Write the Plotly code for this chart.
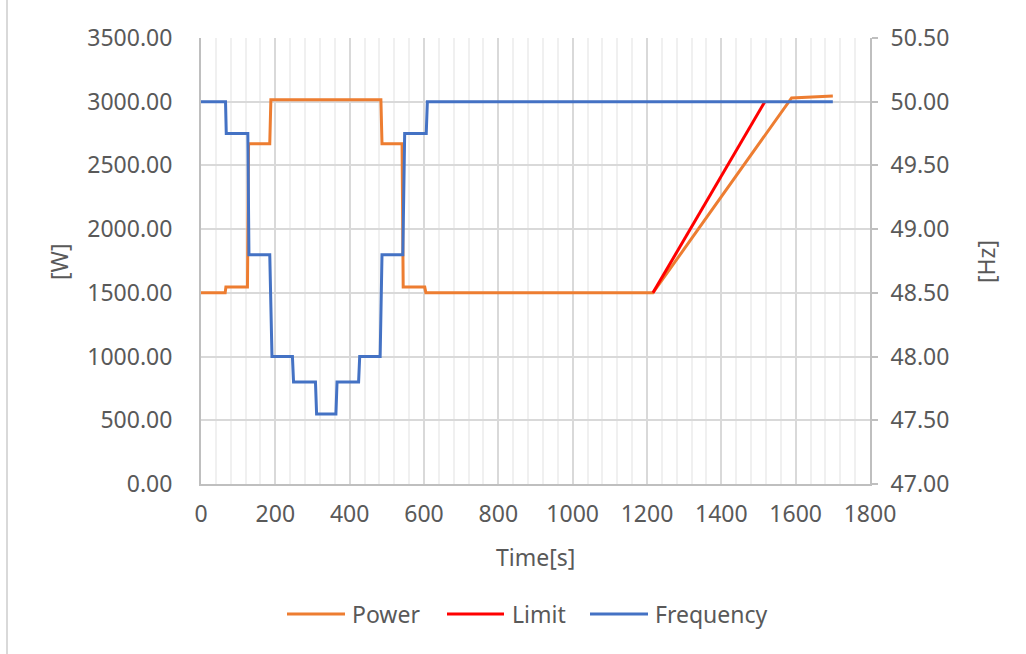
import plotly.graph_objects as go

# Measured active power [W] over time [s]
power_t = [0, 65, 67, 125, 128, 185, 188, 484, 487, 541, 544, 602, 605, 1216, 1589, 1700]
power_w = [1500, 1500, 1545, 1545, 2670, 2670, 3015, 3015, 2670, 2670, 1545, 1545, 1500, 1500, 3030, 3045]

# Power limit ramp [W]
limit_t = [1216, 1517]
limit_w = [1500, 3000]

# Grid frequency [Hz]
freq_t = [0, 66, 68, 126, 129, 185, 191, 246, 249, 308, 311, 363, 366, 424, 427, 482, 487, 543, 548, 606, 609, 1700]
freq_hz = [50.0, 50.0, 49.75, 49.75, 48.8, 48.8, 48.0, 48.0, 47.8, 47.8, 47.55, 47.55,
           47.8, 47.8, 48.0, 48.0, 48.8, 48.8, 49.75, 49.75, 50.0, 50.0]

series_names = ["Power", "Limit", "Frequency"]
colors = ["#ED7D31", "#FF0000", "#4472C4"]

FONT = "Noto Sans"
TXT = "#595959"
FS = 23

fig = go.Figure()
fig.add_trace(go.Scatter(x=power_t, y=power_w, mode="lines", name=series_names[0],
                         line=dict(color=colors[0], width=3), yaxis="y"))
fig.add_trace(go.Scatter(x=limit_t, y=limit_w, mode="lines", name=series_names[1],
                         line=dict(color=colors[1], width=3), yaxis="y"))
fig.add_trace(go.Scatter(x=freq_t, y=freq_hz, mode="lines", name=series_names[2],
                         line=dict(color=colors[2], width=3), yaxis="y2"))

fig.update_layout(
    width=1026, height=654,
    margin=dict(l=201, r=156, t=38, b=170, pad=0),
    paper_bgcolor="white", plot_bgcolor="white",
    font=dict(family=FONT, size=FS, color=TXT),
    showlegend=False,
    xaxis=dict(
        range=[0, 1800], dtick=200, tick0=0,
        showgrid=True, gridcolor="#d9d9d9", gridwidth=2,
        minor=dict(dtick=40, showgrid=True, gridcolor="#f0f0f0", gridwidth=2),
        showline=True, linecolor="#bfbfbf", linewidth=2,
        ticks="", zeroline=False, ticklabelstandoff=8,
        tickfont=dict(size=FS, color=TXT),
    ),
    yaxis=dict(
        range=[0, 3500], dtick=500, tick0=0, tickformat=".2f",
        showgrid=True, gridcolor="#d9d9d9", gridwidth=2,
        showline=True, linecolor="#bfbfbf", linewidth=2,
        ticks="", zeroline=False, ticklabelstandoff=22,
        tickfont=dict(size=FS, color=TXT),
    ),
    yaxis2=dict(
        range=[47, 50.5], dtick=0.5, tick0=47, tickformat=".2f",
        overlaying="y", side="right",
        showgrid=False, zeroline=False,
        showline=True, linecolor="#bfbfbf", linewidth=2,
        ticks="outside", ticklen=6, tickcolor="#bfbfbf", tickwidth=2,
        ticklabelstandoff=8,
        tickfont=dict(size=FS, color=TXT),
    ),
)

W, H = 669.0, 446.0
def px(x):
    return (x - 201) / W
def py(y):
    return (484 - y) / H

annotations = [
    dict(text="Time[s]", x=px(535), y=py(557), xref="paper", yref="paper",
         showarrow=False, font=dict(size=FS, color=TXT), xanchor="center", yanchor="middle"),
    dict(text="[W]", x=px(59), y=py(262), xref="paper", yref="paper", textangle=-90,
         showarrow=False, font=dict(size=FS, color=TXT), xanchor="center", yanchor="middle"),
    dict(text="[Hz]", x=px(986), y=py(262), xref="paper", yref="paper", textangle=-90,
         showarrow=False, font=dict(size=FS, color=TXT), xanchor="center", yanchor="middle"),
]

shapes = [
    # chart frame edge on the left
    dict(type="line", xref="paper", yref="paper", x0=px(7), x1=px(7), y0=py(0), y1=py(654),
         line=dict(color="#d9d9d9", width=2)),
]

# legend entries: line sample + label
legend_pos = [(287, 345, 350), (447, 504, 510), (590, 648, 653)]
for name, col, (x0, x1, xt) in zip(series_names, colors, legend_pos):
    shapes.append(dict(type="line", xref="paper", yref="paper", x0=px(x0), x1=px(x1),
                       y0=py(614), y1=py(614), line=dict(color=col, width=3)))
    annotations.append(dict(text=name, x=px(xt), y=py(614), xref="paper", yref="paper",
                            showarrow=False, xanchor="left", yanchor="middle",
                            font=dict(size=FS, color=TXT)))

fig.update_layout(annotations=annotations, shapes=shapes)

fig.write_html("out.html")
